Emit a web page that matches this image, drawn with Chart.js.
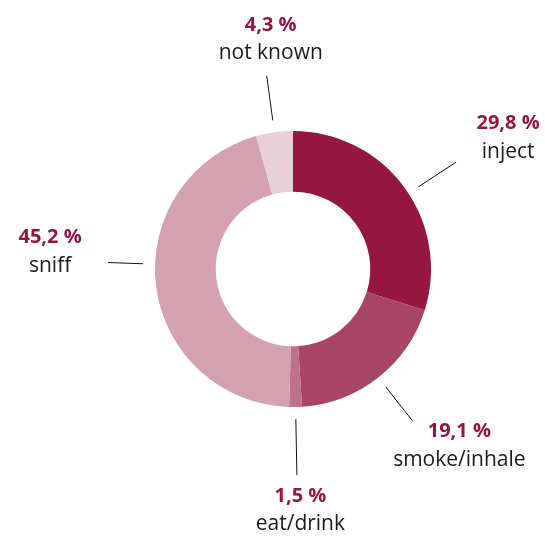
<!DOCTYPE html>
<html>
<head>
<meta charset="utf-8">
<script src="https://cdn.jsdelivr.net/npm/chart.js@4"></script>
<style>
  html, body { margin: 0; padding: 0; background: #ffffff; }
  #wrap { width: 545px; height: 536px; }
</style>
</head>
<body>
<div id="wrap"><canvas id="c" width="545" height="536"></canvas></div>
<script>
// ---- data ----
const categories = ["inject", "smoke/inhale", "eat/drink", "sniff", "not known"];
const shares = [29.8, 19.1, 1.5, 45.2, 4.3];
const shareLabels = ["29,8 %", "19,1 %", "1,5 %", "45,2 %", "4,3 %"];
const sliceColors = ["#951640", "#a84465", "#bf7189", "#d4a1b1", "#e9cfd7"];

// ---- label layout (annotation styling, not data) ----
// lineEnd: radius of leader line end; angle: optional override (radians, canvas coords)
// dx/dy: offset of text block (percent baseline, centered) from line end
const labelLayout = [
  { lineEnd: 195, angle: -0.58, dx: 52, dy: -33 },
  { lineEnd: 193, dx: 47, dy: 16.5 },
  { lineEnd: 206, dx: 3.5, dy: 27 },
  { lineEnd: 185, angle: Math.PI + 0.035, dx: -58, dy: -19.5 },
  { lineEnd: 195, dx: 4, dy: -45 }
];

const leaderLabels = {
  id: 'leaderLabels',
  afterDatasetsDraw(chart) {
    const ctx = chart.ctx;
    const meta = chart.getDatasetMeta(0);
    meta.data.forEach((arc, i) => {
      const p = arc.getProps(['x', 'y', 'startAngle', 'endAngle', 'outerRadius'], true);
      const cfg = labelLayout[i];
      const mid = cfg.angle !== undefined ? cfg.angle : (p.startAngle + p.endAngle) / 2;
      const r0 = p.outerRadius + 12;
      const r1 = cfg.lineEnd;
      const x0 = p.x + Math.cos(mid) * r0, y0 = p.y + Math.sin(mid) * r0;
      const x1 = p.x + Math.cos(mid) * r1, y1 = p.y + Math.sin(mid) * r1;
      ctx.save();
      ctx.strokeStyle = '#111111';
      ctx.lineWidth = 1;
      ctx.beginPath();
      ctx.moveTo(x0, y0);
      ctx.lineTo(x1, y1);
      ctx.stroke();
      const tx = x1 + cfg.dx, ty = y1 + cfg.dy;
      ctx.textAlign = 'center';
      ctx.textBaseline = 'alphabetic';
      ctx.fillStyle = '#951640';
      ctx.font = 'bold 20px "Open Sans", sans-serif';
      ctx.fillText(shareLabels[i], tx, ty);
      ctx.fillStyle = '#1a1a1a';
      ctx.font = '21px "Open Sans", sans-serif';
      ctx.fillText(categories[i], tx, ty + 28.5);
      ctx.restore();
    });
  }
};

new Chart(document.getElementById('c'), {
  type: 'doughnut',
  data: {
    labels: categories,
    datasets: [{
      data: shares,
      backgroundColor: sliceColors,
      borderWidth: 0,
      hoverOffset: 0
    }]
  },
  options: {
    responsive: false,
    animation: false,
    cutout: '56%',
    layout: { padding: { left: 155, right: 114, top: 131, bottom: 129 } },
    plugins: {
      legend: { display: false },
      tooltip: { enabled: false }
    }
  },
  plugins: [leaderLabels]
});
</script>
</body>
</html>
